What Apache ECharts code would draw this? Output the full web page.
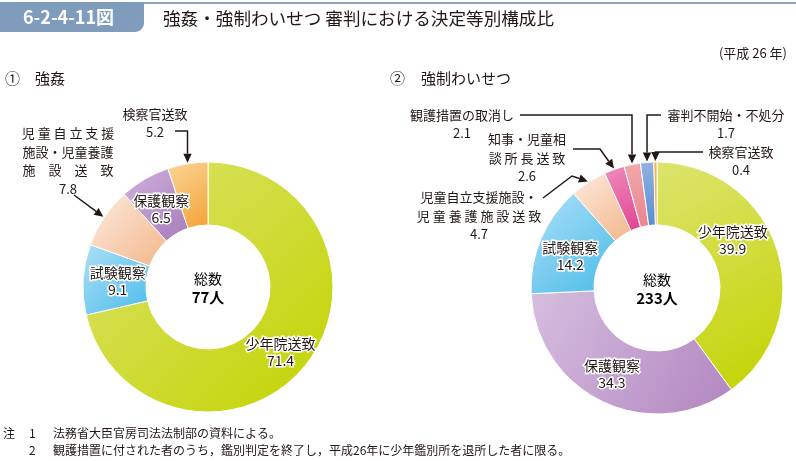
<!DOCTYPE html>
<html><head><meta charset="utf-8">
<script src="https://cdn.jsdelivr.net/npm/echarts@6/dist/echarts.min.js"></script>
<style>html,body{margin:0;padding:0;background:#fff}#c{width:796px;height:461px}</style>
</head><body><div id="c"></div>
<script>
// ---- data ----
const catsL = ['少年院送致','試験観察','児童自立支援施設・児童養護施設送致','保護観察','検察官送致'];
const valsL = [71.4, 9.1, 7.8, 6.5, 5.2];
const totalL = '77人';
const labelTextL = ['少年院送致','試験観察','児 童 自 立 支 援\n施設・児童養護\n施　設　送　致','保護観察','検察官送致'];

const catsR = ['少年院送致','保護観察','試験観察','児童自立支援施設・児童養護施設送致','知事・児童相談所長送致','観護措置の取消し','審判不開始・不処分','検察官送致'];
const valsR = [39.9, 34.3, 14.2, 4.7, 2.6, 2.1, 1.7, 0.4];
const totalR = '233人';
const labelTextR = ['少年院送致','保護観察','試験観察','児童自立支援施設・\n児 童 養 護 施 設 送 致','知事・児童相\n談 所 長 送 致','観護措置の取消し','審判不開始・不処分','検察官送致'];

const titleText = '強姦・強制わいせつ 審判における決定等別構成比';
const figNo = '6-2-4-11図';
const yearText = '(平成 26 年)';
const subL = ['①', '強姦'];
const subR = ['②', '強制わいせつ'];
const centerCap = '総数';
const noteHead = '注';
const noteNums = ['1', '2'];
const notes = ['法務省大臣官房司法法制部の資料による。', '観護措置に付された者のうち，鑑別判定を終了し，平成26年に少年鑑別所を退所した者に限る。'];

// ---- styles ----
const FONT = '"Noto Sans CJK JP", "Noto Sans", sans-serif';
const colorsL = [['#dde46e','#c2d300'],['#ade0f7','#4cbbe9'],['#fdebe0','#f3b689'],['#cfb2db','#a67cbb'],['#fbd596','#f4a236']];
const colorsR = [['#dde46e','#c2d300'],['#d6bedf','#b286c0'],['#ade0f7','#4cbbe9'],['#fdebe0','#f3b689'],['#f08cbe','#e0448f'],['#f2aaae','#e8838c'],['#8fb3e0','#5a8ed0'],['#f7b455','#f4a236']];
const PL = {cx:208, cy:287, r0:62, r1:125};
const PR = {cx:657, cy:288, r0:63, r1:126};

// label placement (layout)
const specL = {0:{d:[-3,5]}, 1:{d:[6,0]}, 3:{d:[2,5]}, 2:{pos:[68,161]}, 4:{pos:[155,123]}};
const specR = {0:{d:[-17,-18]}, 1:{d:[-3,-2]}, 2:{d:[3,6]},
  3:{pos:[479,216]}, 4:{pos:[527,158]}, 5:{pos:[462,124]}, 6:{pos:[726,124]}, 7:{pos:[741,161]}};
// callout leader routes (layout): start point, optional via, ends at the slice
const arrowsL = [{i:4, start:[175,131], kind:'hv'}, {i:2, start:[74,195], kind:'diag'}];
const arrowsR = [{i:5, start:[520,115], kind:'hv'}, {i:4, start:[573,149], via:[600,149], kind:'via'},
  {i:3, start:[543,198], via:[572,176], kind:'via'}, {i:6, start:[661,115], kind:'hv'}, {i:7, start:[703,152], kind:'hv'}];

function grad(c){ return new echarts.graphic.LinearGradient(0,0,1,1,[{offset:0,color:c[0]},{offset:1,color:c[1]}]); }

function makeData(cats, vals, cols, spec){
  return vals.map((v,i)=>{
    const outside = spec[i] && spec[i].pos;
    return {name:cats[i], value:v, itemStyle:{color:grad(cols[i])},
      label: outside ? {position:'outside', textBorderWidth:0, fontSize:13, lineHeight:18.5} : {position:'inside'}};
  });
}

function series(cats, vals, cols, spec, P, texts){
  return {
    type:'pie', center:[P.cx,P.cy], radius:[P.r0,P.r1], startAngle:90, clockwise:true,
    avoidLabelOverlap:false, silent:true, animation:false,
    itemStyle:{borderColor:'#fff', borderWidth:1},
    labelLine:{show:false},
    label:{show:true, fontFamily:FONT, fontSize:14, color:'#231815', lineHeight:17,
      textBorderColor:'#fff', textBorderWidth:3, align:'center',
      formatter: p => texts[p.dataIndex] + '\n' + p.value.toFixed(1)},
    labelLayout: p => {
      const s = spec[p.dataIndex];
      if(!s) return {};
      if(s.pos) return {x:s.pos[0], y:s.pos[1], align:'center', verticalAlign:'middle'};
      return {dx:s.d[0], dy:s.d[1]};
    },
    data: makeData(cats, vals, cols, spec)
  };
}

function tip(vals, idx, P){
  const tot = vals.reduce((a,b)=>a+b,0);
  let cum = 0; for(let k=0;k<idx;k++) cum += vals[k];
  const th = (cum + vals[idx]/2)/tot*2*Math.PI;
  const r = P.r1 + 1;
  return [P.cx + r*Math.sin(th), P.cy - r*Math.cos(th)];
}

function arrowGraphics(list, vals, P){
  const out = [];
  list.forEach(a=>{
    const t = tip(vals, a.i, P);
    let pts;
    if(a.kind==='hv') pts = [a.start, [t[0], a.start[1]], t];
    else if(a.kind==='via') pts = [a.start, a.via, t];
    else pts = [a.start, t];
    const p = pts[pts.length-2];
    const dx = t[0]-p[0], dy = t[1]-p[1], L = Math.hypot(dx,dy);
    const ux = dx/L, uy = dy/L, len = 9, hw = 4.2;
    const base = [t[0]-ux*len, t[1]-uy*len];
    const linePts = pts.slice(0,-1).concat([base]);
    out.push({type:'polyline', shape:{points:linePts}, style:{stroke:'#231815', lineWidth:1.5, fill:null}, silent:true, z:10});
    out.push({type:'polygon', shape:{points:[t, [base[0]-uy*hw, base[1]+ux*hw], [base[0]+uy*hw, base[1]-ux*hw]]}, style:{fill:'#231815'}, silent:true, z:10});
  });
  return out;
}

function centerText(P, total){
  return {type:'text', x:P.cx, y:P.cy+1, z:10, style:{
    text:'{a|'+centerCap+'}\n{b|'+total+'}', align:'center', verticalAlign:'middle',
    rich:{a:{fontFamily:FONT, fontSize:14, color:'#231815', lineHeight:18, align:'center'},
          b:{fontFamily:FONT, fontSize:15, fontWeight:'bold', color:'#231815', lineHeight:18, align:'center'}}}};
}

function txt(x, y, s, size, extra){
  return Object.assign({type:'text', x:x, y:y, style:Object.assign({text:s, fill:'#231815', font:size+'px '+FONT, verticalAlign:'middle'}, extra||{})});
}

const chart = echarts.init(document.getElementById('c'), null, {renderer:'canvas'});
chart.setOption({
  backgroundColor:'#fff',
  animation:false,
  series:[series(catsL, valsL, colorsL, specL, PL, labelTextL), series(catsR, valsR, colorsR, specR, PR, labelTextR)],
  graphic:[
    {type:'rect', shape:{x:0,y:2,width:796,height:2}, style:{fill:'#8ba6c4'}},
    {type:'rect', shape:{x:0,y:2,width:144,height:30,r:[0,0,9,0]}, style:{fill:'#7f9cbd'}},
    {type:'text', x:23, y:17, style:{text:figNo, fill:'#fff', font:'bold 18px '+FONT, verticalAlign:'middle'}},
    txt(163, 18, titleText, 17.6),
    txt(787, 53, yearText, 13, {align:'right'}),
    txt(5, 78, subL[0], 15), txt(35, 78, subL[1], 15),
    txt(390, 78, subR[0], 15), txt(421, 78, subR[1], 15),
    txt(3, 433, noteHead, 12), txt(29, 433, noteNums[0], 12), txt(53, 433, notes[0], 12),
    txt(29, 450, noteNums[1], 12), txt(53, 450, notes[1], 12),
    centerText(PL, totalL), centerText(PR, totalR)
  ].concat(arrowGraphics(arrowsL, valsL, PL), arrowGraphics(arrowsR, valsR, PR))
});
</script></body></html>
